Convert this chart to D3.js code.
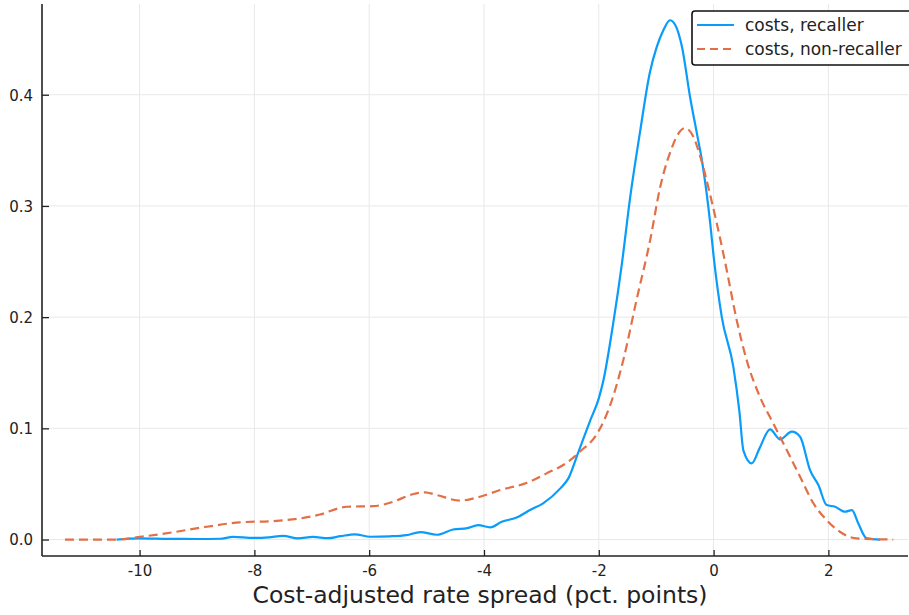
<!DOCTYPE html>
<html lang="en">
  <head>
    <meta charset="utf-8">
    <title>Cost-adjusted rate spread densities</title>
    <script src="https://cdnjs.cloudflare.com/ajax/libs/d3/7.8.5/d3.min.js"></script>
    <style>
      body { margin: 0; background: #fff; }
      text { font-family: "DejaVu Sans", sans-serif; fill: #222; }
      .grid line { stroke: #e8e8e8; stroke-width: 1; }
      .tick text { font-size: 15px; }
    </style>
  </head>
  <body>
    <div id="graph"></div>
    <script>
    // density, recaller (solid blue)
    const recallerX = [-10.40, -10.0, -9.5, -9.0, -8.6, -8.37, -8.02, -7.75, -7.5, -7.24, -6.98, -6.72, -6.5, -6.25, -5.98,
      -5.64, -5.35, -5.11, -4.82, -4.54, -4.29, -4.10, -3.89, -3.69, -3.42, -3.20, -2.97, -2.67, -2.53, -2.36, -2.15,
      -2.0, -1.92, -1.75, -1.60, -1.455, -1.28, -1.11, -0.99, -0.875, -0.76, -0.67, -0.55, -0.41, -0.29, -0.2, -0.06,
      0.0, 0.143, 0.345, 0.45, 0.52, 0.665, 0.80, 0.984, 1.159, 1.362, 1.507, 1.68, 1.826, 1.97, 2.117, 2.29, 2.41,
      2.52, 2.67, 2.90];
    const recallerY = [0, 0.001, 0.0006, 0.0005, 0.0007, 0.0024, 0.0015, 0.002, 0.0033, 0.001, 0.0024, 0.0012, 0.003, 0.0047, 0.0025,
      0.0029, 0.004, 0.0067, 0.0043, 0.009, 0.0103, 0.013, 0.011, 0.016, 0.020, 0.0265, 0.0326, 0.046, 0.055, 0.078, 0.107,
      0.127, 0.143, 0.194, 0.247, 0.307, 0.367, 0.42, 0.443, 0.458, 0.467, 0.463, 0.443, 0.398, 0.365, 0.34, 0.285,
      0.255, 0.200, 0.155, 0.115, 0.080, 0.0685, 0.082, 0.099, 0.090, 0.097, 0.0925, 0.0625, 0.049, 0.031, 0.0295, 0.025, 0.0265,
      0.0146, 0.001, 0];

    // density, non-recaller (dashed orange)
    const nonRecallerX = [-11.30, -10.4, -9.99, -9.42, -8.83, -8.25, -7.67, -7.2, -6.86, -6.39, -5.93, -5.58, -5.23, -5.03, -4.82,
      -4.42, -4.07, -3.72, -3.25, -2.91, -2.56, -2.33, -2.02, -1.80, -1.57, -1.34, -1.106, -0.93, -0.758, -0.613, -0.497,
      -0.35, -0.235, -0.06, 0.113, 0.23, 0.404, 0.578, 0.81, 1.04, 1.275, 1.507, 1.739, 1.97, 2.20, 2.49, 3.13];
    const nonRecallerY = [0, 0, 0.0024, 0.0065, 0.0115, 0.0155, 0.0166, 0.019, 0.0225, 0.0295, 0.030, 0.034, 0.041, 0.0424, 0.040,
      0.035, 0.0385, 0.0445, 0.051, 0.0595, 0.069, 0.079, 0.096, 0.121, 0.162, 0.216, 0.269, 0.317, 0.348, 0.365, 0.370,
      0.362, 0.345, 0.31, 0.271, 0.242, 0.197, 0.161, 0.128, 0.1045, 0.0805, 0.0565, 0.0326, 0.0175, 0.007, 0.001, 0];

    const xTicks = [-10, -8, -6, -4, -2, 0, 2];
    const yTicks = [0, 0.1, 0.2, 0.3, 0.4];
    const seriesNames = ["costs, recaller", "costs, non-recaller"];
    const xLabel = "Cost-adjusted rate spread (pct. points)";

    const W = 909, H = 615;
    const mLeft = 42, mRight = 908, mTop = 4, mBottom = 556;

    const svg = d3.select("#graph").append("svg")
      .attr("width", W).attr("height", H);

    const xScale = d3.scaleLinear().domain([-11.70, 3.387]).range([mLeft, mRight]);
    const yScale = d3.scaleLinear().domain([-0.0148, 0.4816]).range([mBottom, mTop]);

    // grid
    const grid = svg.append("g").attr("class", "grid");
    grid.selectAll(".gx").data(xTicks).enter().append("line")
      .attr("x1", d => xScale(d)).attr("x2", d => xScale(d))
      .attr("y1", mTop).attr("y2", mBottom);
    grid.selectAll(".gy").data(yTicks).enter().append("line")
      .attr("x1", mLeft).attr("x2", mRight)
      .attr("y1", d => yScale(d)).attr("y2", d => yScale(d));

    // axes, ticks pointing inward
    const xAxis = d3.axisTop(xScale).tickValues(xTicks).tickSize(6).tickSizeOuter(0).tickFormat(d => String(d));
    const gx = svg.append("g").attr("transform", "translate(0," + mBottom + ")").call(xAxis);
    gx.selectAll(".tick text").attr("y", 20).attr("dy", 0);

    const yAxis = d3.axisRight(yScale).tickValues(yTicks).tickSize(7).tickSizeOuter(0).tickFormat(d => d.toFixed(1));
    const gy = svg.append("g").attr("transform", "translate(" + mLeft + ",0)").call(yAxis);
    gy.selectAll(".tick text").attr("x", -9).attr("text-anchor", "end").attr("dy", "0.36em");

    svg.selectAll(".domain").remove();
    svg.selectAll(".tick line").attr("stroke", "#222").attr("stroke-width", 1.3);

    svg.append("line").attr("x1", mLeft).attr("x2", mRight).attr("y1", mBottom).attr("y2", mBottom)
      .attr("stroke", "#222").attr("stroke-width", 1.6);
    svg.append("line").attr("x1", mLeft).attr("x2", mLeft).attr("y1", mTop).attr("y2", mBottom)
      .attr("stroke", "#222").attr("stroke-width", 1.6);

    // curves
    const line = d3.line()
      .x(d => xScale(d[0]))
      .y(d => yScale(d[1]))
      .curve(d3.curveMonotoneX);

    const recaller = recallerX.map((x, i) => [x, recallerY[i]]);
    const nonRecaller = nonRecallerX.map((x, i) => [x, nonRecallerY[i]]);

    svg.append("path").datum(recaller)
      .attr("d", line)
      .attr("fill", "none")
      .attr("stroke", "#0A9CFA")
      .attr("stroke-width", 2.2);

    svg.append("path").datum(nonRecaller)
      .attr("d", line)
      .attr("fill", "none")
      .attr("stroke", "#E36F47")
      .attr("stroke-width", 2.2)
      .attr("stroke-dasharray", "9,5");

    // legend
    const legend = svg.append("g");
    legend.append("rect")
      .attr("x", 692).attr("y", 11)
      .attr("width", 222).attr("height", 54)
      .attr("rx", 3)
      .attr("fill", "#fff")
      .attr("stroke", "#111")
      .attr("stroke-width", 1.6);

    const legendStyles = [
      { color: "#0A9CFA", dash: null },
      { color: "#E36F47", dash: "8,5" }
    ];
    seriesNames.forEach((name, i) => {
      const y = 25 + i * 24;
      legend.append("line")
        .attr("x1", 697).attr("x2", 734)
        .attr("y1", y).attr("y2", y)
        .attr("stroke", legendStyles[i].color)
        .attr("stroke-width", 2.2)
        .attr("stroke-dasharray", legendStyles[i].dash);
      legend.append("text")
        .attr("x", 745).attr("y", y)
        .attr("dy", "0.36em")
        .style("font-size", "17px")
        .text(name);
    });

    // x label
    svg.append("text")
      .attr("x", 480)
      .attr("y", 603)
      .attr("text-anchor", "middle")
      .style("font-size", "23.5px")
      .text(xLabel);
    </script>
  </body>
</html>
